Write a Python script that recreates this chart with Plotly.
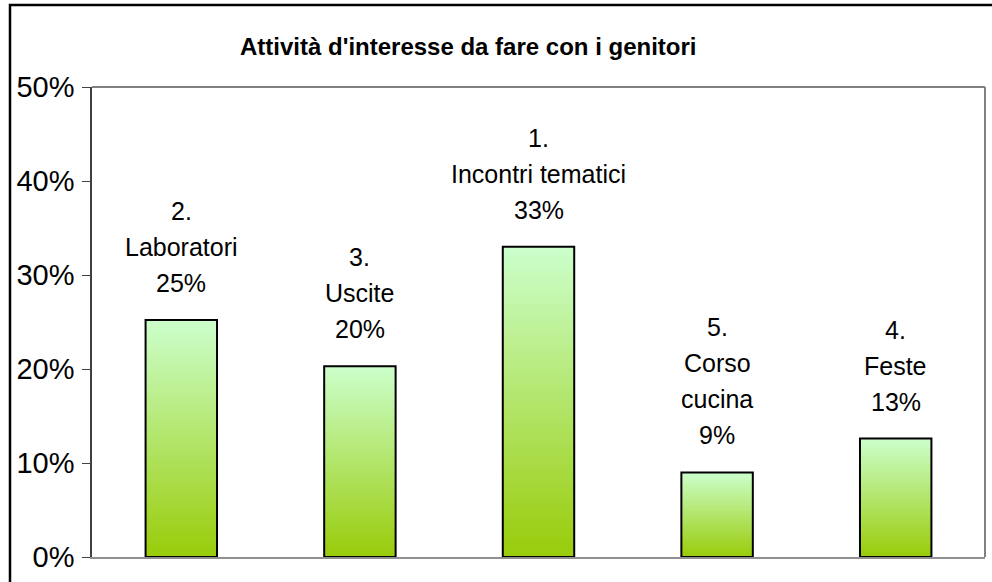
import base64, struct, zlib
import plotly.graph_objects as go

# ---- data ----
categories = ["2.<br>Laboratori", "3.<br>Uscite", "1.<br>Incontri tematici",
              "5.<br>Corso<br>cucina", "4.<br>Feste"]
values = [25.2, 20.3, 33.0, 9.0, 12.6]
value_labels = ["25%", "20%", "33%", "9%", "13%"]
y_ticks = [0, 10, 20, 30, 40, 50]
y_tick_labels = ["0%", "10%", "20%", "30%", "40%", "50%"]
title_text = "Attività d'interesse da fare con i genitori"

# ---- gradient image (top light mint -> bottom yellow-green) ----
def gradient_png(top, bottom, h=256):
    rows = b""
    for r in range(h):
        t = r / (h - 1)
        c = bytes(int(round(top[k] + (bottom[k] - top[k]) * t)) for k in range(3))
        rows += b"\x00" + c
    def chunk(tag, data):
        return (struct.pack(">I", len(data)) + tag + data +
                struct.pack(">I", zlib.crc32(tag + data) & 0xffffffff))
    png = b"\x89PNG\r\n\x1a\n"
    png += chunk(b"IHDR", struct.pack(">IIBBBBB", 1, h, 8, 2, 0, 0, 0))
    png += chunk(b"IDAT", zlib.compress(rows))
    png += chunk(b"IEND", b"")
    return "data:image/png;base64," + base64.b64encode(png).decode()

grad = gradient_png((204, 255, 204), (153, 204, 10))

xs = list(range(len(values)))
bar_w = 0.4
FONT = "Liberation Sans, Arial"

fig = go.Figure()
fig.add_trace(go.Bar(
    x=xs, y=values, width=bar_w,
    marker=dict(color="rgba(0,0,0,0)", line=dict(color="black", width=2)),
    hoverinfo="skip", showlegend=False,
))

images = []
for i, v in zip(xs, values):
    images.append(dict(source=grad, xref="x", yref="y", x=i - bar_w / 2, y=v,
                       sizex=bar_w, sizey=v, xanchor="left", yanchor="top",
                       sizing="stretch", layer="below"))

annotations = []
LINE_GAP = 36
for i, v, c, lab in zip(xs, values, categories, value_labels):
    lines = c.split("<br>") + [lab]
    for k, line in enumerate(reversed(lines)):
        annotations.append(dict(x=i, y=v, xref="x", yref="y", text=line,
                                showarrow=False, yanchor="middle", yshift=37 + LINE_GAP * k,
                                font=dict(family=FONT, size=25, color="black")))
annotations.append(dict(xref="paper", yref="paper", x=(468 - 92) / 893, y=(557 - 46) / 470,
                        xanchor="center", yanchor="middle", showarrow=False,
                        text="<b>" + title_text + "</b>",
                        font=dict(family=FONT, size=24, color="black")))

L, R, T, B = 92, 7, 87, 25
W, H = 992, 582
pw, ph = W - L - R, H - T - B

def px_x(p):
    return (p - L) / pw

def px_y(p):
    return (H - B - p) / ph

shapes = [
    # outer chart border (extends beyond the visible picture on right/bottom)
    dict(type="rect", xref="paper", yref="paper",
         x0=px_x(10), x1=px_x(1000), y0=px_y(5), y1=px_y(600),
         line=dict(color="black", width=2.5), fillcolor="rgba(0,0,0,0)", layer="above"),
    # plot area top and right border
    dict(type="line", xref="paper", yref="paper", x0=0, x1=1, y0=1, y1=1,
         line=dict(color="#808080", width=2), layer="above"),
    dict(type="line", xref="paper", yref="paper", x0=1, x1=1, y0=0, y1=1,
         line=dict(color="#808080", width=2), layer="above"),
]

fig.update_layout(
    width=W, height=H,
    margin=dict(l=L, r=R, t=T, b=B, pad=0),
    paper_bgcolor="white", plot_bgcolor="rgba(0,0,0,0)",
    images=images, annotations=annotations, shapes=shapes,
    showlegend=False,
    xaxis=dict(range=[-0.5, 4.5], showticklabels=False, ticks="", showgrid=False,
               zeroline=False, showline=True, linecolor="#909090", linewidth=2, fixedrange=True),
    yaxis=dict(range=[0, 50], tickvals=y_ticks, ticktext=y_tick_labels, ticks="outside",
               ticklen=8, tickcolor="#404040", tickwidth=1, showgrid=False, zeroline=False,
               showline=True, linecolor="#404040", linewidth=1.5,
               tickfont=dict(family=FONT, size=29, color="black"),
               ticklabelstandoff=2, fixedrange=True),
)

fig.write_html("out.html", config={"displayModeBar": False},
               post_script="document.body.style.margin='0';document.body.style.overflow='hidden';")
